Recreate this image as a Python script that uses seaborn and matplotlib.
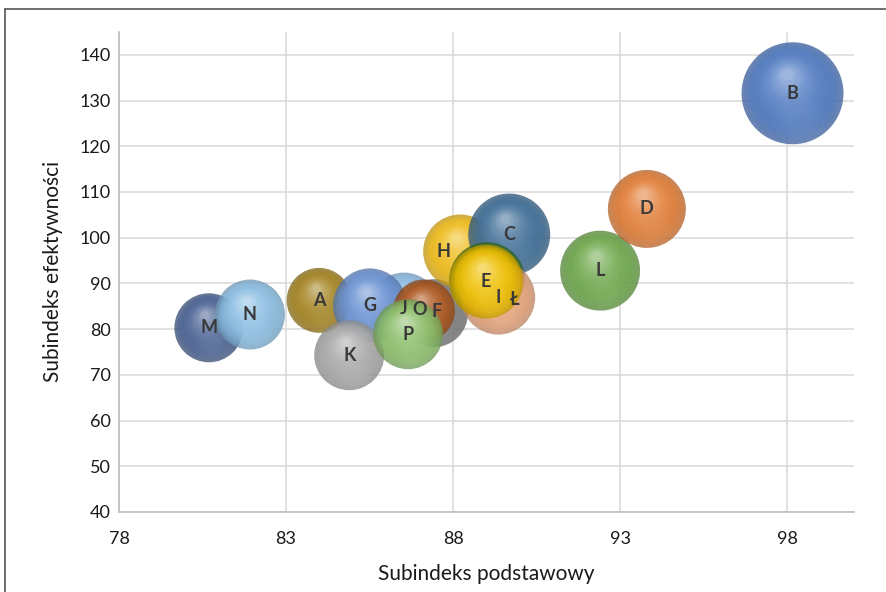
import numpy as np
import pandas as pd
import matplotlib
matplotlib.use("Agg")
import matplotlib.pyplot as plt
import seaborn as sns
from matplotlib.colors import to_rgb
from matplotlib.transforms import offset_copy
from matplotlib.lines import Line2D

# --- data -------------------------------------------------------------
etykiety = ["A", "B", "C", "D", "E", "F", "G", "H", "I", "J", "K", "L", "Ł", "M", "N", "O", "P"]
podstawowy = [83.99, 98.16, 89.68, 93.80, 88.99, 87.43, 85.51, 88.21, 89.35,
              86.53, 84.89, 92.40, 89.02, 80.69, 81.92, 87.13, 86.65]
efektywnosc = [86.3, 131.6, 100.7, 106.3, 90.4, 83.5, 85.2, 97.0, 86.9,
               84.5, 74.3, 92.8, 90.7, 80.3, 83.2, 84.1, 78.9]
wielkosc = [40.6, 100.0, 64.6, 58.5, 52.6, 44.4, 52.6, 52.6, 52.6,
            49.8, 47.1, 61.5, 55.5, 45.8, 47.1, 36.9, 47.1]
kolory = ["#A5841F", "#4F7BC4", "#3E6E98", "#E57E36", "#F2C200", "#7F7F7F",
          "#6A93D6", "#F2BE1A", "#EBA77D", "#8DBFE8", "#ABABAB", "#6FAA4B",
          "#3F7A2B", "#4A6396", "#8CC0E6", "#B0581E", "#8DC16B"]

# back-to-front drawing sequence
kolejnosc = ["M", "N", "A", "J", "G", "F", "O", "K", "P", "H", "C", "Ł", "I", "E", "L", "D", "B"]
# label nudges in points
przesuniecia = {"H": (-12, 0), "Ł": (20, -14), "O": (-3, 1), "F": (2, 1)}

df = pd.DataFrame({"etykieta": etykiety, "x": podstawowy, "y": efektywnosc,
                   "wielkosc": wielkosc, "kolor": kolory})

x_ticks = [78, 83, 88, 93, 98]
y_ticks = list(range(40, 141, 10))

# --- figure -----------------------------------------------------------
sns.set_theme(style="white")
plt.rcParams["font.family"] = ["Lato", "DejaVu Sans"]

fig = plt.figure(figsize=(8.86, 5.92), dpi=100)
ax = fig.add_axes([119 / 886, 80 / 592, 735 / 886, 480 / 592])
ax.set_xlim(78, 100)
ax.set_ylim(40, 145)

MAX_DIAM_PT = 73.4  # diameter of the largest bubble in points
s_max = MAX_DIAM_PT ** 2
vmax = max(wielkosc)


def mix(c, other, t):
    c = np.array(to_rgb(c))
    o = np.array(to_rgb(other))
    return tuple(np.clip(c * (1 - t) + o * t, 0, 1))


def sphere(row, z):
    s = row.wielkosc / vmax * s_max
    r_pt = np.sqrt(s) / 2
    sub = df[df.etykieta == row.etykieta]
    # body of the bubble
    sns.scatterplot(data=sub, x="x", y="y", s=s, color=mix(row.kolor, "black", 0.2),
                    alpha=0.78, linewidth=0, edgecolor="none", legend=False,
                    ax=ax, zorder=z)
    # radial gradient toward the highlight (upper left)
    n = 16
    for k in range(1, n + 1):
        t = k / n
        f = 1 - 0.88 * t
        col = mix(row.kolor, "white", 0.62 * t ** 1.8)
        tr = offset_copy(ax.transData, fig=fig, x=-0.12 * r_pt * (1 - f),
                         y=0.42 * r_pt * (1 - f), units="points")
        ax.scatter(sub.x, sub.y, s=s * f * f, color=col, alpha=0.26, linewidth=0,
                   transform=tr, zorder=z + 0.001 * k)
    # soft reflection near the bottom
    for k, f in enumerate([0.5, 0.38, 0.26]):
        tr = offset_copy(ax.transData, fig=fig, x=0.12 * r_pt, y=-0.5 * r_pt, units="points")
        ax.scatter(sub.x, sub.y, s=s * f * f, color=mix(row.kolor, "white", 0.3),
                   alpha=0.09, linewidth=0, transform=tr, zorder=z + 0.02 + 0.001 * k)
    # label
    dx, dy = przesuniecia.get(row.etykieta, (0, 0))
    tr = offset_copy(ax.transData, fig=fig, x=dx, y=dy, units="points")
    ax.text(row.x, row.y, row.etykieta, transform=tr, ha="center", va="center",
            fontsize=13, fontweight="bold", color="#383838", zorder=100)


for i, lab in enumerate(kolejnosc):
    row = df[df.etykieta == lab].iloc[0]
    sphere(row, 3 + i * 0.1)

ax.set_xlim(78, 100)
ax.set_ylim(40, 145)
ax.set_xticks(x_ticks)
ax.set_yticks(y_ticks)
ax.set_xticklabels([str(v) for v in x_ticks])
ax.set_yticklabels([str(v) for v in y_ticks])
ax.grid(True, color="#d9d9d9", linewidth=1.1, zorder=0)
ax.set_axisbelow(True)
ax.tick_params(axis="both", length=0, labelsize=13, labelcolor="#1a1a1a")
ax.tick_params(axis="x", pad=14)
ax.tick_params(axis="y", pad=6)
for side in ["top", "right"]:
    ax.spines[side].set_visible(False)
for side in ["left", "bottom"]:
    ax.spines[side].set_color("#bfbfbf")
    ax.spines[side].set_linewidth(1.2)

ax.set_xlabel("Subindeks podstawowy", fontsize=15, color="#1a1a1a", labelpad=12)
ax.set_ylabel("Subindeks efektywności", fontsize=15, color="#1a1a1a", labelpad=12)

# chart frame
fig.add_artist(Line2D([4.5 / 886, 4.5 / 886], [0, 1 - 8.5 / 592], color="#555555",
                      linewidth=1.2, transform=fig.transFigure))
fig.add_artist(Line2D([4.5 / 886, 1], [1 - 8.5 / 592, 1 - 8.5 / 592], color="#555555",
                      linewidth=1.2, transform=fig.transFigure))

fig.savefig("out.png", dpi=100)
